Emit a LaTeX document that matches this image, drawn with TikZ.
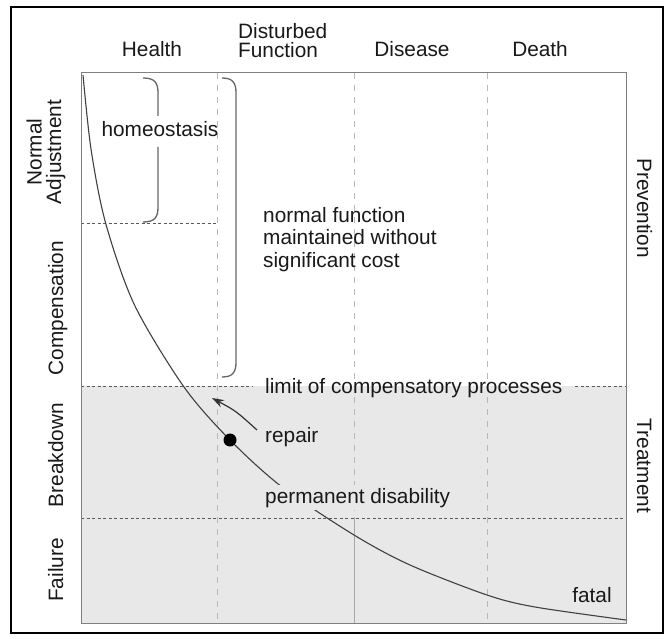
\documentclass[tikz,border=0pt]{standalone}
\usepackage{fontspec}
\setmainfont{Liberation Sans}
\usetikzlibrary{arrows.meta}
\begin{document}
\begin{tikzpicture}[x=1pt,y=-1pt,
  lbl/.style={font=\fontsize{20.8}{19.5}\selectfont, inner sep=0pt, text=black!90},
  lblwide/.style={font=\fontsize{20.8}{22.5}\selectfont, inner sep=0pt, text=black!90},
  hdash/.style={draw=black!65, line width=0.9pt, dash pattern=on 3pt off 2.5pt},
  vdash/.style={draw=black!28, line width=0.9pt, dash pattern=on 6pt off 6pt},
  brace/.style={draw=black!60, line width=1.3pt},
  curve/.style={draw=black!75, line width=1.1pt},
  dotmark/.style={circle, fill=black, inner sep=0pt, minimum size=13pt}]
\useasboundingbox (0,0) rectangle (669,639);
\fill[white] (0,0) rectangle (669,639);
\draw[line width=1.6pt] (11,7) rectangle (663,633);
% shaded treatment zone
\fill[black!9] (81,386) rectangle (626,623);
% vertical column separators
\draw[vdash] (217,73) -- (217,623);
\draw[vdash] (354,73) -- (354,518);
\draw[draw=black!35, line width=0.9pt] (354,518) -- (354,623);
\draw[vdash] (487,73) -- (487,623);
% horizontal row separators
\draw[hdash] (81,223) -- (217,223);
\draw[hdash] (81,386) -- (253,386);
\draw[hdash] (575,386) -- (626,386);
\draw[hdash] (81,518) -- (626,518);
% plot frame
\draw[draw=black!50, line width=1pt] (81,73) rectangle (626,623);
% main curve
\draw[curve] plot[smooth, tension=0.5] coordinates {(83,75) (91,149) (105.6,223) (134.5,305) (184,387) (230,440) (282,487) (354,535) (410,565) (487,595) (535,607) (626,620)};
% labels inside
\node[lbl, anchor=base west, fill=black!9, inner sep=3pt] (perm) at (262,503) {permanent disability};
\node[dotmark] (dot) at (230,440) {};
\coordinate (rs) at (257,430);
\coordinate (re) at (212,398);
\draw[-{Stealth[length=12pt,width=8pt]}, line width=1.2pt, draw=black!80] (rs) .. controls (236,411) .. (re);
\node[lbl, anchor=base west] (repair) at (265,442) {repair};
\node[lbl, anchor=base west] (limit) at (265,393) {limit of compensatory processes};
\node[lbl, anchor=base] (fatal) at (592,602) {fatal};
% brackets
\draw[brace] (143,78) .. controls (155,78) and (158,83) .. (158,93) -- (158,116);
\draw[brace] (158,147) -- (158,207) .. controls (158,217) and (155,222) .. (143,222);
\draw[brace] (222,78) .. controls (233,78) and (236,83) .. (236,93) -- (236,362) .. controls (236,372) and (233,377) .. (222,377);
\node[lbl, anchor=base] (homeo) at (160,137) {homeostasis};
\node[lblwide, anchor=north west, align=left] (normf) at (263,207) {normal function\\maintained without\\significant cost};
% column headers
\node[lbl, anchor=base] (health) at (152,57) {Health};
\node[lbl, anchor=north west, align=left] (dist) at (238,23) {Disturbed\\Function};
\node[lbl, anchor=base] (disease) at (412,57) {Disease};
\node[lbl, anchor=base] (death) at (540,57) {Death};
% row labels left
\node[lbl, rotate=90, align=center] (normadj) at (46,152) {Normal\\Adjustment};
\node[lbl, rotate=90, anchor=base] (comp) at (63,308) {Compensation};
\node[lbl, rotate=90, anchor=base] (brk) at (63,455) {Breakdown};
\node[lbl, rotate=90, anchor=base] (fail) at (63,570) {Failure};
% row labels right
\node[lbl, rotate=-90, anchor=base] (prev) at (637,208) {Prevention};
\node[lbl, rotate=-90, anchor=base] (treat) at (637,466) {Treatment};
\end{tikzpicture}
\end{document}
